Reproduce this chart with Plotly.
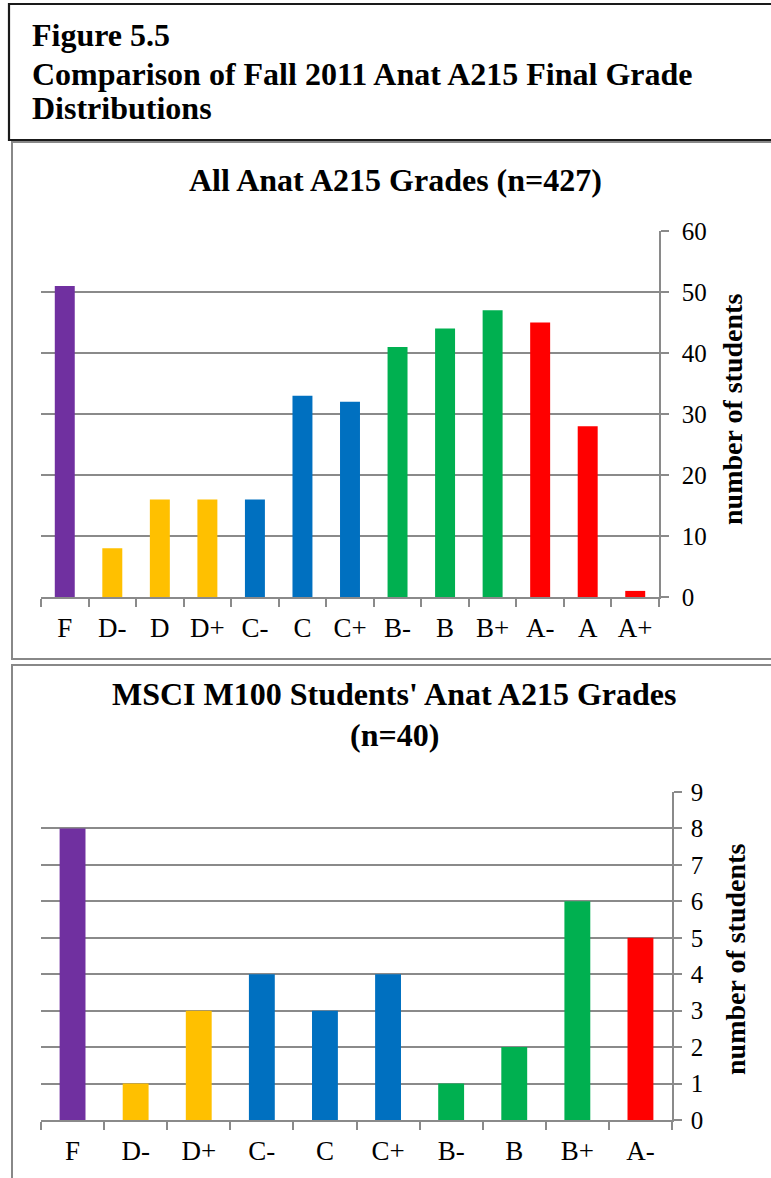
import plotly.graph_objects as go

W, H = 771, 1178

# Fall 2011 Anat A215 final grades, all students
all_grades = ["F", "D-", "D", "D+", "C-", "C", "C+", "B-", "B", "B+", "A-", "A", "A+"]
all_counts = [51, 8, 16, 16, 16, 33, 32, 41, 44, 47, 45, 28, 1]

# Same course, MSCI M100 students only
msci_grades = ["F", "D-", "D+", "C-", "C", "C+", "B-", "B", "B+", "A-"]
msci_counts = [8, 1, 3, 4, 3, 4, 1, 2, 6, 5]

letter_colors = {"F": "#7030A0", "D": "#FFC000", "C": "#0070C0",
                 "B": "#00B050", "A": "#FF0000"}

SERIF = "Liberation Serif"
GRID = "#8a8a8a"


def px(x):
    return x / W


def py(y):
    return 1 - y / H


fig = go.Figure()
fig.add_trace(go.Bar(
    x=all_grades, y=all_counts,
    marker=dict(color=[letter_colors[g[0]] for g in all_grades], line=dict(width=0)),
    width=0.42, xaxis="x", yaxis="y", showlegend=False,
))
fig.add_trace(go.Bar(
    x=msci_grades, y=msci_counts,
    marker=dict(color=[letter_colors[g[0]] for g in msci_grades], line=dict(width=0)),
    width=0.41, xaxis="x2", yaxis="y2", showlegend=False,
))

xaxis_common = dict(
    type="category", showline=True, linecolor=GRID, linewidth=1.5,
    ticks="outside", tickson="boundaries", ticklen=8, tickcolor=GRID, tickwidth=1.5,
    showgrid=False, zeroline=False, automargin=False, ticklabelstandoff=6,
    tickfont=dict(family=SERIF, size=27, color="#000"),
)
yaxis_common = dict(
    side="right", showline=True, linecolor=GRID, linewidth=1.5,
    ticks="outside", ticklen=8, tickcolor=GRID, tickwidth=1.5,
    showgrid=True, gridcolor=GRID, gridwidth=1.5, zeroline=False, automargin=False,
    tickfont=dict(family=SERIF, size=25, color="#000"),
)

fig.update_layout(
    width=W, height=H, autosize=False,
    margin=dict(l=0, r=0, t=0, b=0, pad=0, autoexpand=False),
    paper_bgcolor="white", plot_bgcolor="white",
    xaxis=dict(xaxis_common, domain=[px(41), px(659)], anchor="y"),
    yaxis=dict(yaxis_common, domain=[py(597), py(231)], anchor="x",
               range=[0, 60], dtick=10, ticklabelstandoff=8),
    xaxis2=dict(xaxis_common, domain=[px(41), px(672)], anchor="y2"),
    yaxis2=dict(yaxis_common, domain=[py(1120), py(792)], anchor="x2",
                range=[0, 9], dtick=1, ticklabelstandoff=4),
)

# Frames: heading box and the two chart panels
fig.add_shape(type="rect", xref="paper", yref="paper",
              x0=px(9), x1=px(790), y0=py(140), y1=py(4),
              line=dict(color="#1a1a1a", width=2.2), fillcolor="rgba(0,0,0,0)", layer="below")
fig.add_shape(type="rect", xref="paper", yref="paper",
              x0=px(12), x1=px(790), y0=py(659), y1=py(142),
              line=dict(color="#888888", width=2), fillcolor="rgba(0,0,0,0)", layer="below")
fig.add_shape(type="rect", xref="paper", yref="paper",
              x0=px(12), x1=px(790), y0=py(1200), y1=py(665),
              line=dict(color="#888888", width=2), fillcolor="rgba(0,0,0,0)", layer="below")

bold = dict(family=SERIF, size=32, color="#000", weight="bold")
for text, yc in [("Figure 5.5", 35),
                 ("Comparison of Fall 2011 Anat A215 Final Grade", 74),
                 ("Distributions", 108)]:
    fig.add_annotation(text=text, xref="paper", yref="paper", x=px(30), y=py(yc),
                       xanchor="left", yanchor="middle", showarrow=False, font=bold)

title_font = dict(family=SERIF, size=32, color="#000", weight="bold")
for text, xc, yc in [("All Anat A215 Grades (n=427)", 396, 180),
                     ("MSCI M100 Students' Anat A215 Grades", 395, 694),
                     ("(n=40)", 395, 735)]:
    fig.add_annotation(text=text, xref="paper", yref="paper",
                       x=px(xc), y=py(yc), xanchor="center", yanchor="middle",
                       showarrow=False, font=title_font)

axis_title_font = dict(family=SERIF, size=28, color="#000", weight="bold")
fig.add_annotation(text="number of students", xref="paper", yref="paper",
                   x=px(732), y=py(410), textangle=-90, xanchor="center", yanchor="middle",
                   showarrow=False, font=axis_title_font)
fig.add_annotation(text="number of students", xref="paper", yref="paper",
                   x=px(735), y=py(960), textangle=-90, xanchor="center", yanchor="middle",
                   showarrow=False, font=axis_title_font)

fig.write_html("out.html")
